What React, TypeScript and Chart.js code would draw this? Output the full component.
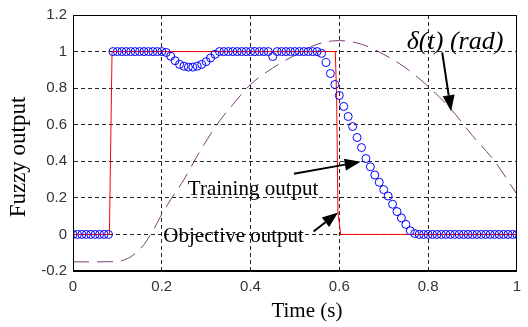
import React, { useEffect, useRef } from "react";
import { Chart, registerables } from "chart.js";

Chart.register(...registerables);

// ---- Data ----
const xTickValues = [0, 0.2, 0.4, 0.6, 0.8, 1];
const xTickLabels = ["0", "0.2", "0.4", "0.6", "0.8", "1"];
const yTickValues = [-0.2, 0, 0.2, 0.4, 0.6, 0.8, 1, 1.2];
const yTickLabels = ["-0.2", "0", "0.2", "0.4", "0.6", "0.8", "1", "1.2"];

// Training output, sampled every 0.01 s from t = 0 to t = 1
const trainingStep = 0.01;
const trainingValues = [
  0, 0, 0, 0, 0, 0, 0, 0, 0,
  1, 1, 1, 1, 1, 1, 1, 1, 1, 1, 1, 1,
  0.995, 0.975, 0.95, 0.93, 0.92, 0.915, 0.915, 0.92, 0.93, 0.945, 0.965, 0.985, 1,
  1, 1, 1, 1, 1, 1, 1, 1, 1, 1, 1, 0.973, 1, 1, 1, 1, 1, 1, 1, 1, 1, 1,
  0.99, 0.94, 0.88, 0.82, 0.76, 0.7, 0.645, 0.59, 0.53, 0.475, 0.415, 0.37,
  0.325, 0.285, 0.245, 0.21, 0.165, 0.125, 0.09, 0.055, 0.02, 0.005,
  0, 0, 0, 0, 0, 0, 0, 0, 0, 0, 0, 0, 0, 0, 0, 0, 0, 0, 0, 0, 0, 0, 0,
];

// Objective output (step)
const objectiveTimes = [0, 0.082, 0.088, 0.591, 0.594, 0.597, 0.603, 1];
const objectiveValues = [0, 0, 1, 1, 0.75, 0.12, 0, 0];

// delta(t) (rad)
const deltaTimes = [0, 0.05, 0.1, 0.12, 0.14, 0.16, 0.18, 0.2, 0.22, 0.25, 0.28, 0.3, 0.33, 0.36, 0.4, 0.45, 0.5, 0.55, 0.6, 0.65, 0.7, 0.75, 0.8, 0.85, 0.9, 0.95, 1];
const deltaValues = [-0.15, -0.15, -0.148, -0.135, -0.105, -0.055, 0.02, 0.11, 0.19, 0.3, 0.43, 0.51, 0.62, 0.71, 0.82, 0.91, 0.98, 1.04, 1.06, 1.04, 0.985, 0.91, 0.81, 0.69, 0.54, 0.4, 0.22];

// ---- Annotations (data coordinates) ----
const serif = "'Liberation Serif', 'DejaVu Serif', serif";
const textNotes = [
  { text: "Training output", t: 0.2588, v: 0.217, font: `21px ${serif}` },
  { text: "Objective output", t: 0.2035, v: -0.043, font: `21px ${serif}` },
  { text: "\u03B4(t) (rad)", t: 0.752, v: 1.016, font: `italic 26px ${serif}` },
];
const arrowNotes = [
  { t0: 0.8319, v0: 0.995, t1: 0.8518, v1: 0.674 },
  { t0: 0.4978, v0: 0.332, t1: 0.6482, v1: 0.397 },
  { t0: 0.542, v0: 0.016, t1: 0.5973, v1: 0.12 },
];

const decorPlugin = {
  id: "decor",
  afterDatasetsDraw(chart: any) {
    const { ctx, chartArea, scales } = chart;
    const xs = scales.x;
    const ys = scales.y;
    ctx.save();
    // frame
    ctx.strokeStyle = "#000";
    ctx.lineWidth = 1;
    ctx.setLineDash([]);
    const l = Math.round(chartArea.left) + 0.5;
    const t = Math.round(chartArea.top) + 0.5;
    const r = Math.round(chartArea.right) - 0.5;
    const b = Math.round(chartArea.bottom) - 0.5;
    ctx.strokeRect(l, t, r - l, b - t);

    // texts
    ctx.fillStyle = "#000";
    ctx.textBaseline = "alphabetic";
    ctx.textAlign = "left";
    for (const n of textNotes) {
      ctx.font = n.font;
      ctx.fillText(n.text, xs.getPixelForValue(n.t), ys.getPixelForValue(n.v));
    }
    // arrows
    for (const a of arrowNotes) {
      const x0 = xs.getPixelForValue(a.t0);
      const y0 = ys.getPixelForValue(a.v0);
      const x1 = xs.getPixelForValue(a.t1);
      const y1 = ys.getPixelForValue(a.v1);
      const ang = Math.atan2(y1 - y0, x1 - x0);
      const hl = 16;
      const hw = 6;
      const bx = x1 - hl * Math.cos(ang);
      const by = y1 - hl * Math.sin(ang);
      ctx.strokeStyle = "#000";
      ctx.lineWidth = 2;
      ctx.beginPath();
      ctx.moveTo(x0, y0);
      ctx.lineTo(bx, by);
      ctx.stroke();
      ctx.beginPath();
      ctx.moveTo(x1, y1);
      ctx.lineTo(bx + hw * Math.sin(ang), by - hw * Math.cos(ang));
      ctx.lineTo(bx - hw * Math.sin(ang), by + hw * Math.cos(ang));
      ctx.closePath();
      ctx.fill();
    }

    // axis titles
    ctx.font = `21px ${serif}`;
    ctx.textAlign = "center";
    ctx.fillText("Time (s)", (chartArea.left + chartArea.right) / 2 + 12, 317);
    ctx.save();
    ctx.translate(25, 157);
    ctx.rotate(-Math.PI / 2);
    ctx.font = `23px ${serif}`;
    ctx.fillText("Fuzzy output", 0, 0);
    ctx.restore();
    ctx.restore();
  },
};

export default function App() {
  const ref = useRef<HTMLCanvasElement>(null);
  useEffect(() => {
    const canvas = ref.current!;
    const training = trainingValues.map((v, i) => ({ x: i * trainingStep, y: v }));
    const objective = objectiveTimes.map((x, i) => ({ x, y: objectiveValues[i] }));
    const delta = deltaTimes.map((x, i) => ({ x, y: deltaValues[i] }));
    const tickFont = { family: "'Liberation Sans', Arial", size: 15 };
    const chart = new Chart(canvas, {
      type: "scatter",
      data: {
        datasets: [
          {
            label: "Training output",
            data: training,
            showLine: false,
            pointStyle: "circle",
            pointRadius: 4,
            pointBorderWidth: 1,
            pointBorderColor: "#0000ff",
            pointBackgroundColor: "rgba(0,0,0,0)",
          },
          {
            label: "Objective output",
            data: objective,
            showLine: true,
            borderColor: "#ff0000",
            borderWidth: 1,
            pointRadius: 0,
            tension: 0,
          },
          {
            label: "delta",
            data: delta,
            showLine: true,
            borderColor: "#7b3f7b",
            borderWidth: 1,
            borderDash: [16, 8],
            pointRadius: 0,
            cubicInterpolationMode: "monotone",
          },
        ],
      },
      options: {
        responsive: false,
        animation: false,
        events: [],
        layout: { padding: { top: 14, right: 2, left: 0, bottom: 0 } },
        plugins: { legend: { display: false }, tooltip: { enabled: false } },
        scales: {
          x: {
            type: "linear",
            min: 0,
            max: 1,
            afterBuildTicks: (s: any) => {
              s.ticks = xTickValues.map((v) => ({ value: v }));
            },
            afterFit: (s: any) => {
              s.height = 56;
            },
            ticks: {
              callback: (_v: any, i: number) => xTickLabels[i],
              font: tickFont,
              color: "#333",
              padding: 7,
              maxRotation: 0,
            },
            grid: { color: "rgba(0,0,0,0.85)", lineWidth: 1, drawTicks: false },
            border: { display: true, color: "#000", width: 1, dash: [4, 3] },
          },
          y: {
            type: "linear",
            min: -0.2,
            max: 1.2,
            afterBuildTicks: (s: any) => {
              s.ticks = yTickValues.map((v) => ({ value: v }));
            },
            afterFit: (s: any) => {
              s.width = 73;
            },
            ticks: {
              callback: (_v: any, i: number) => yTickLabels[i],
              font: tickFont,
              color: "#333",
              padding: 6,
            },
            grid: { color: "rgba(0,0,0,0.85)", lineWidth: 1, drawTicks: false },
            border: { display: true, color: "#000", width: 1, dash: [4, 3] },
          },
        },
      },
      plugins: [decorPlugin],
    } as any);
    return () => chart.destroy();
  }, []);
  return (
    <div style={{ position: "fixed", left: 0, top: 0, width: 528, height: 327, background: "#fff" }}>
      <canvas ref={ref} width={528} height={327} style={{ display: "block" }} />
    </div>
  );
}
